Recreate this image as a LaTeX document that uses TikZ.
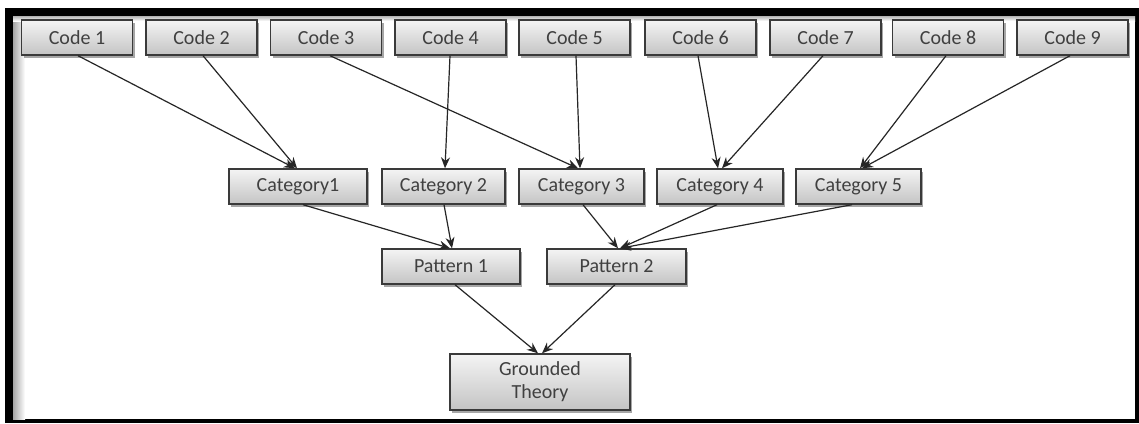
\documentclass[tikz,border=0pt]{standalone}
\usepackage{fontspec}
\setmainfont{Carlito}
\usetikzlibrary{shadows,arrows.meta}
\definecolor{boxtop}{HTML}{F4F4F4}
\definecolor{boxbot}{HTML}{C4C4C4}
\definecolor{boxline}{HTML}{3A3A3A}
\definecolor{txt}{HTML}{404040}
\tikzset{
  box/.style={draw=boxline, line width=1.4pt, top color=boxtop, bottom color=boxbot,
    minimum height=35pt, inner sep=0pt, font=\fontsize{20}{22}\selectfont, text=txt,
    drop shadow={shadow xshift=2pt, shadow yshift=-3pt, opacity=0.35, fill=black}},
  conn/.style={draw=black!85, line width=1.2pt, -{Stealth[length=11pt,width=9pt]}}
}
\begin{document}
\begin{tikzpicture}[x=1pt,y=-1pt]
\useasboundingbox (0,0) rectangle (1139,423);
% frame
\fill[black] (5,8) rectangle (1139,423);
\fill[white] (13,16) rectangle (1135,419);
\shade[left color=black!35, right color=white] (13,16) rectangle (25,419);
\shade[top color=black!30, bottom color=white] (13,16) rectangle (1135,21);
% codes
\foreach \i/\x in {1/77,2/201.5,3/326,4/450.5,5/574.5,6/700.5,7/825.5,8/948,9/1072.5}{
  \node[box, minimum width=111pt] (c\i) at (\x,37.5) {Code \i};
}
% categories
\node[box, minimum width=138pt] (k1) at (298,186.5) {Category1};
\node[box, minimum width=123pt] (k2) at (443.5,186.5) {Category 2};
\node[box, minimum width=125pt] (k3) at (581.5,186.5) {Category 3};
\node[box, minimum width=126pt] (k4) at (720,186.5) {Category 4};
\node[box, minimum width=125pt] (k5) at (858.5,186.5) {Category 5};
% patterns
\node[box, minimum width=138pt] (p1) at (451,266.5) {Pattern 1};
\node[box, minimum width=139pt] (p2) at (616.5,266.5) {Pattern 2};
% grounded theory
\node[box, minimum width=180pt, minimum height=56pt, align=center, font=\fontsize{20}{23}\selectfont] (g) at (540,382) {Grounded\\Theory};
% connectors
\draw[conn] ([xshift=1pt]c1.south) -- ([xshift=-3pt]k1.north);
\draw[conn] ([xshift=1.5pt]c2.south) -- ([xshift=-1pt]k1.north);
\draw[conn] ([xshift=4pt]c3.south) -- ([xshift=-3.5pt]k3.north);
\draw[conn] ([xshift=-0.5pt]c4.south) -- ([xshift=1.5pt]k2.north);
\draw[conn] ([xshift=1.5pt]c5.south) -- ([xshift=-1.5pt]k3.north);
\draw[conn] ([xshift=-2.5pt]c6.south) -- ([xshift=-2pt]k4.north);
\draw[conn] ([xshift=-2.5pt]c7.south) -- ([xshift=2pt]k4.north);
\draw[conn] ([xshift=-2pt]c8.south) -- ([xshift=1.5pt]k5.north);
\draw[conn] ([xshift=-2.5pt]c9.south) -- ([xshift=3.5pt]k5.north);
\draw[conn] ([xshift=5pt]k1.south) -- ([xshift=-1pt]p1.north);
\draw[conn] ([xshift=0.5pt]k2.south) -- ([xshift=1pt]p1.north);
\draw[conn] ([xshift=1.5pt]k3.south) -- ([xshift=1.5pt]p2.north);
\draw[conn] ([xshift=-3pt]k4.south) -- ([xshift=3.5pt]p2.north);
\draw[conn] ([xshift=-6.5pt]k5.south) -- ([xshift=3.5pt]p2.north);
\draw[conn] ([xshift=4pt]p1.south) -- ([xshift=-2pt]g.north);
\draw[conn] ([xshift=-1.5pt]p2.south) -- ([xshift=2pt]g.north);
\end{tikzpicture}
\end{document}
